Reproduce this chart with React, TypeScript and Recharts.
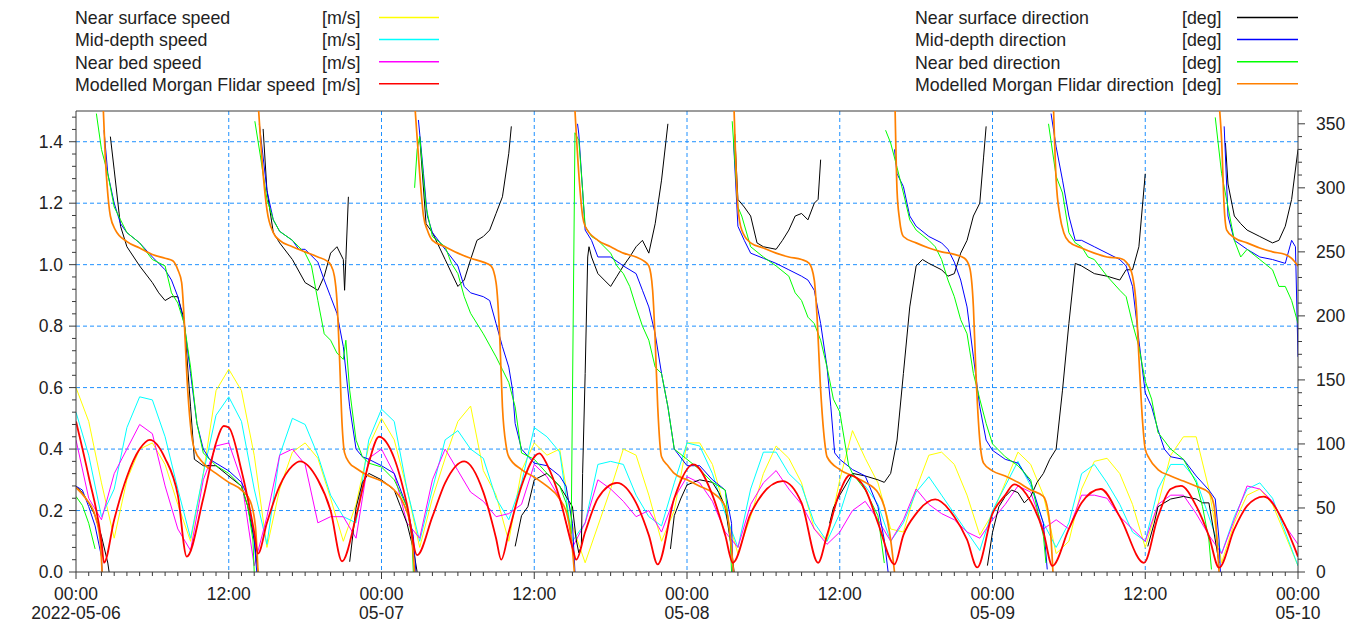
import { CartesianGrid, Line, LineChart, ReferenceLine, XAxis, YAxis } from 'recharts';

type Pt = [number, number | null];

// hourly speeds, 2022-05-06 00:00 .. 2022-05-10 00:00
const surfaceSpeed = [
  0.60, 0.49, 0.29, 0.11, 0.30, 0.40, 0.42, 0.35, 0.22, 0.10,
  0.32, 0.59, 0.66, 0.59, 0.38, 0.08, 0.27, 0.39, 0.42, 0.37,
  0.24, 0.10, 0.22, 0.41, 0.50, 0.43, 0.27, 0.08, 0.24, 0.37,
  0.49, 0.54, 0.33, 0.25, 0.10, 0.33, 0.42, 0.38, 0.40, 0.15,
  0.03, 0.15, 0.27, 0.40, 0.38, 0.25, 0.10, 0.20, 0.42, 0.42,
  0.35, 0.20, 0.06, 0.18, 0.32, 0.41, 0.37, 0.29, 0.14, 0.10,
  0.30, 0.46, 0.37, 0.29, 0.14, 0.13, 0.27, 0.38, 0.39, 0.35,
  0.25, 0.12, 0.19, 0.29, 0.39, 0.35, 0.25, 0.06, 0.10, 0.27,
  0.36, 0.37, 0.32, 0.22, 0.08, 0.22, 0.38, 0.44, 0.44, 0.27,
  0.03, 0.16, 0.25, 0.27, 0.22, 0.12, 0.02,
];
const midSpeed = [
  0.52, 0.38, 0.18, 0.27, 0.47, 0.57, 0.56, 0.44, 0.27, 0.11,
  0.32, 0.51, 0.57, 0.49, 0.27, 0.09, 0.38, 0.50, 0.48, 0.38,
  0.25, 0.18, 0.16, 0.43, 0.53, 0.49, 0.27, 0.10, 0.27, 0.43,
  0.46, 0.40, 0.37, 0.24, 0.17, 0.29, 0.47, 0.44, 0.39, 0.10,
  0.16, 0.35, 0.36, 0.35, 0.25, 0.18, 0.15, 0.29, 0.42, 0.41,
  0.32, 0.19, 0.08, 0.27, 0.39, 0.39, 0.32, 0.28, 0.16, 0.10,
  0.19, 0.32, 0.28, 0.22, 0.10, 0.16, 0.26, 0.31, 0.25, 0.19,
  0.13, 0.07, 0.20, 0.28, 0.36, 0.28, 0.16, 0.08, 0.16, 0.32,
  0.35, 0.29, 0.22, 0.13, 0.10, 0.27, 0.35, 0.35, 0.30, 0.18,
  0.06, 0.18, 0.27, 0.29, 0.24, 0.13, 0.02,
];
const bedSpeed = [
  0.43, 0.24, 0.17, 0.32, 0.40, 0.48, 0.45, 0.28, 0.14, 0.07,
  0.30, 0.41, 0.42, 0.30, 0.02, 0.18, 0.38, 0.40, 0.35, 0.16,
  0.18, 0.18, 0.11, 0.37, 0.40, 0.32, 0.16, 0.11, 0.30, 0.40,
  0.33, 0.26, 0.23, 0.18, 0.19, 0.22, 0.35, 0.31, 0.24, 0.08,
  0.16, 0.30, 0.27, 0.23, 0.18, 0.20, 0.13, 0.24, 0.31, 0.29,
  0.23, 0.13, 0.08, 0.22, 0.29, 0.33, 0.27, 0.22, 0.14, 0.09,
  0.13, 0.20, 0.23, 0.17, 0.10, 0.17, 0.27, 0.22, 0.19, 0.17,
  0.13, 0.11, 0.17, 0.22, 0.28, 0.26, 0.14, 0.17, 0.14, 0.25,
  0.25, 0.24, 0.18, 0.14, 0.10, 0.22, 0.25, 0.25, 0.19, 0.12,
  0.06, 0.17, 0.28, 0.27, 0.23, 0.15, 0.09,
];
// [hour, value]
const modelSpeed: Pt[] = [
  [0, 0.49], [1, 0.31], [2, 0.10], [2.2, 0.03], [3, 0.17], [4, 0.31], [5, 0.40], [5.8, 0.43], [7, 0.37], [8, 0.25],
  [8.7, 0.05], [10, 0.24], [11, 0.42], [11.6, 0.475], [12, 0.47], [13, 0.33], [14, 0.13], [14.3, 0.06], [15, 0.16],
  [16, 0.28], [17, 0.345], [17.6, 0.36], [19, 0.30], [20, 0.20], [20.9, 0.035], [22, 0.18], [23, 0.355], [23.8, 0.44],
  [25, 0.37], [26, 0.22], [26.8, 0.055], [28, 0.18], [29, 0.29], [30.5, 0.36], [32, 0.26], [33, 0.11], [33.4, 0.04],
  [34, 0.13], [35, 0.28], [36.4, 0.386], [37, 0.35], [38, 0.24], [39, 0.08], [39.3, 0.04], [40, 0.13], [41, 0.24],
  [42.5, 0.29], [44, 0.225], [45, 0.12], [45.7, 0.025], [47, 0.24], [48.5, 0.35], [50, 0.25], [51, 0.12], [51.6, 0.03],
  [53, 0.19], [55.5, 0.296], [57, 0.225], [58.3, 0.03], [59, 0.12], [60, 0.26], [60.8, 0.315], [62, 0.27], [63, 0.16],
  [64.3, 0.025], [65, 0.12], [66, 0.19], [67.5, 0.236], [69, 0.18], [70, 0.105], [70.8, 0.015], [72, 0.19], [73, 0.25],
  [73.7, 0.285], [75, 0.23], [76, 0.13], [76.7, 0.02], [78, 0.14], [79, 0.225], [80.5, 0.27], [82, 0.18], [83.9, 0.03],
  [85, 0.18], [86, 0.27], [86.8, 0.28], [88, 0.215], [89, 0.117], [89.8, 0.014], [91, 0.14], [92, 0.215], [93.3, 0.245],
  [95, 0.15], [96, 0.05],
];

// directions [hour, deg]; null breaks the line where it wraps 0/360
const surfaceDir: Pt[] = [
  [0, 67], [0.5, 62], [1, 54], [1.5, 44], [2, 28], [2.5, 7], [2.6, 0], [2.65, null], [2.7, 340], [3, 314], [3.5, 270],
  [4, 254], [5, 239], [6, 226], [6.5, 218], [7, 212], [7.5, 215], [8, 215], [8.5, 197], [9, 129], [9.3, 88], [10, 83],
  [11, 83], [12, 75], [13, 67], [13.5, 51], [14, 25], [14.3, 0], [14.5, null], [14.7, 346], [15, 298], [15.5, 265],
  [16, 257], [17, 244], [18, 226], [19, 220], [19.5, 231], [20, 249], [20.5, 254], [21, 244], [21.1, 220], [21.2, 244],
  [21.4, 293], [21.45, null], [21.5, 8], [22, 50], [22.5, 70], [23, 77], [24, 72], [25, 64], [25.5, 51], [26, 38],
  [26.5, 18], [26.8, 0], [26.9, null], [27, 340], [27.5, 272], [28, 265], [29, 244], [30, 223], [30.5, 228], [31, 244],
  [31.5, 259], [32, 262], [32.5, 267], [33, 280], [33.5, 293], [34, 327], [34.2, 348], [34.3, null], [34.5, 20],
  [35, 44], [35.5, 51], [36, 72], [37, 77], [38, 67], [38.5, 59], [39, 51], [39.3, 25], [39.5, 15], [39.7, 20],
  [39.8, 77], [40, 155], [40.2, 246], [40.3, 254], [40.5, 246], [41, 233], [41.5, 228], [42, 223], [42.5, 231],
  [43, 239], [43.5, 246], [44, 254], [44.5, 259], [45, 249], [45.5, 272], [46, 306], [46.5, 350], [46.6, null],
  [46.7, 18], [47, 44], [47.5, 57], [48, 68], [49, 72], [50, 70], [50.5, 62], [51, 51], [51.5, 18], [51.7, 0],
  [51.72, null], [51.75, 342], [52, 291], [52.5, 285], [53, 278], [53.5, 257], [54, 254], [55, 252], [55.5, 259],
  [56, 267], [56.5, 278], [57, 280], [57.5, 275], [58, 288], [58.3, 291], [58.5, 322], [58.8, null], [59.2, 38],
  [59.5, 50], [60, 60], [61, 77], [62, 75], [63, 72], [63.5, 70], [64, 77], [64.5, 103], [65, 155], [65.5, 207],
  [66, 239], [66.5, 244], [67, 241], [68, 236], [68.5, 231], [69, 233], [69.5, 249], [70, 259], [70.5, 278], [71, 288],
  [71.3, 324], [71.5, 348], [71.55, null], [71.6, 5], [72, 31], [72.5, 51], [73, 59], [73.5, 64], [74, 62],
  [74.5, 54], [75, 59], [75.5, 70], [76, 77], [76.5, 88], [77, 96], [77.5, 142], [78, 194], [78.5, 241], [79, 239],
  [80, 233], [81, 231], [82, 228], [82.5, 236], [83, 236], [83.5, 254], [84, 311], [84.1, null], [84.2, 20],
  [84.7, 38], [85, 51], [86, 57], [87, 59], [88, 57], [88.5, 54], [89, 54], [89.5, 25], [89.8, 7], [90, null],
  [90.3, 335], [90.5, 303], [91, 278], [91.5, 272], [92, 267], [93, 262], [94, 257], [94.5, 259], [95, 270],
  [95.5, 291], [96, 330],
];
const midDir: Pt[] = [
  [0, 67], [0.5, 64], [1, 51], [1.5, 36], [2, 12], [2.05, 0], [2.1, null], [2.2, 345], [2.5, 311], [3, 288],
  [3.5, 272], [4, 265], [5, 257], [6, 246], [7, 236], [7.5, 228], [8, 215], [8.5, 194], [9, 155], [9.5, 116], [10, 96],
  [10.5, 88], [11, 85], [12, 79], [13, 70], [13.5, 59], [14, 25], [14.2, 0], [14.3, null], [14.4, 350], [15, 298],
  [15.5, 275], [16, 266], [17, 259], [17.5, 252], [18, 252], [19, 242], [19.5, 228], [20, 215], [20.5, 202], [21, 176],
  [21.5, 129], [22, 96], [22.5, 90], [23, 88], [24, 83], [25, 77], [26, 51], [26.5, 28], [26.7, 0], [26.8, null],
  [26.9, 353], [27.3, 311], [27.6, 278], [28, 265], [29, 252], [30, 239], [30.5, 223], [31, 218], [32, 215],
  [32.5, 212], [33, 194], [33.5, 176], [34, 160], [34.3, 142], [34.5, 116], [35, 96], [36, 85], [37, 83], [38, 75],
  [38.5, 67], [39, 38], [39.2, 0], [39.3, null], [39.4, 350], [39.5, 342], [39.8, 298], [40, 267], [40.5, 259],
  [41, 246], [42, 246], [43, 239], [44, 233], [44.5, 220], [45, 207], [45.5, 186], [46, 155], [46.5, 129], [47, 96],
  [48, 83], [49, 83], [50, 72], [51, 64], [51.5, 38], [51.6, 0], [51.62, null], [51.65, 337], [52, 270], [52.5, 259],
  [53, 249], [54, 245], [55, 241], [56, 236], [57, 231], [57.5, 228], [58, 220], [58.5, 194], [59, 160], [59.3, 129],
  [59.6, 93], [60, 88], [61, 80], [62, 75], [63, 51], [63.5, 25], [63.8, 0], [64, null], [64.3, 330], [64.5, 311],
  [65, 301], [65.5, 278], [66, 270], [67, 262], [68, 257], [68.5, 252], [69, 242], [69.5, 228], [70, 207],
  [70.5, 168], [71, 129], [71.5, 103], [72, 95], [73, 88], [74, 85], [75, 70], [76, 38], [76.3, 2], [76.4, null],
  [76.6, 358], [77, 332], [77.5, 306], [78, 278], [78.5, 259], [79, 259], [80, 254], [81, 249], [82, 244],
  [82.5, 239], [83, 223], [83.5, 181], [84, 140], [84.5, 129], [85, 111], [85.5, 96], [86, 90], [87, 88], [88, 75],
  [89, 64], [89.5, 57], [89.8, 25], [89.9, 0], [90, null], [90.2, 348], [90.5, 278], [91, 259], [92, 252], [93, 246],
  [94, 244], [95, 241], [95.5, 259], [95.8, 254], [96, 168],
];
const bedDir: Pt[] = [
  [0, 59], [0.5, 52], [1, 38], [1.5, 18], [1.55, null], [1.6, 358], [2, 330], [2.5, 311], [3, 285], [3.5, 275],
  [4, 265], [5, 257], [6, 244], [7, 239], [7.5, 218], [8, 210], [8.5, 194], [9, 160], [9.5, 116], [10, 93],
  [10.5, 88], [11, 83], [12, 77], [13, 67], [13.5, 51], [13.9, 25], [14, 0], [14.02, null], [14.05, 352],
  [14.5, 324], [15, 291], [15.5, 275], [16, 266], [17, 259], [18, 249], [18.5, 239], [19, 212], [19.5, 186],
  [20, 181], [20.5, 171], [21, 166], [21.2, 181], [21.5, 142], [22, 103], [22.5, 90], [23, 85], [24, 82], [25, 72],
  [26, 51], [26.4, 25], [26.5, 0], [26.55, null], [26.6, 300], [26.8, 330], [27, 340], [27.5, 285], [28, 262],
  [29, 254], [29.5, 241], [30, 233], [30.5, 215], [31, 202], [32, 186], [33, 168], [33.5, 158], [34, 148],
  [34.5, 129], [35, 93], [36, 88], [37, 77], [38, 67], [38.5, 54], [38.9, 30], [39.2, 343], [39.5, 337], [39.8, 298],
  [40, 270], [40.5, 262], [41, 259], [42, 249], [42.5, 239], [43, 233], [43.5, 223], [44, 207], [44.5, 192],
  [45, 181], [45.5, 160], [46, 155], [46.5, 129], [47, 96], [48, 88], [49, 80], [50, 70], [51, 64], [51.4, 25],
  [51.5, 0], [51.52, null], [51.55, 352], [52, 285], [52.3, 278], [53, 254], [54, 246], [55, 239], [56, 231],
  [56.5, 218], [57, 212], [57.5, 199], [58, 194], [58.5, 181], [59, 160], [59.5, 135], [60, 125], [60.7, 83],
  [61, 77], [62, 64], [63, 44], [63.5, 7], [63.55, null], [63.6, 345], [64, 335], [64.5, 316], [65, 296], [65.5, 275],
  [66, 267], [67, 259], [67.5, 254], [68, 244], [68.5, 228], [69, 215], [69.5, 197], [70, 186], [70.5, 155],
  [71, 135], [71.5, 116], [72, 100], [73, 90], [74, 83], [75, 72], [76, 28], [76.2, 7], [76.3, null], [76.4, 350],
  [77, 309], [77.5, 296], [78, 265], [78.5, 257], [79, 254], [79.5, 246], [80, 244], [81, 231], [82, 220],
  [82.5, 215], [83, 194], [83.5, 176], [84, 149], [84.5, 135], [85, 109], [86, 96], [87, 88], [88, 70], [88.5, 51],
  [89, 25], [89.2, 2], [89.3, null], [89.5, 355], [90, 311], [90.5, 285], [91, 259], [91.5, 246], [92, 252],
  [93, 244], [94, 236], [94.5, 223], [95, 223], [95.5, 212], [96, 194],
];
const modelDir: Pt[] = [
  [0, 66], [0.8, 57], [1.5, 44], [1.9, 25], [2.05, 0], [2.1, null], [2.15, 360], [2.3, 324], [2.45, 301], [2.7, 278],
  [3.1, 267], [4, 258], [5, 253], [6, 248], [7, 245], [7.6, 243], [8, 236], [8.3, 226], [8.5, 197], [8.7, 155],
  [9, 114], [9.3, 96], [10, 85], [11, 77], [12, 70], [13, 64], [13.7, 55], [14.1, 35], [14.3, 0], [14.32, null],
  [14.35, 360], [14.7, 311], [15, 283], [15.5, 265], [16, 259], [17, 254], [18, 250], [19, 246], [19.7, 243],
  [20, 240], [20.3, 231], [20.5, 212], [20.7, 168], [20.9, 116], [21.1, 93], [21.5, 85], [22, 81], [23, 75],
  [24, 71], [25, 64], [25.8, 52], [26.3, 35], [26.6, 0], [26.62, null], [26.65, 360], [27, 311], [27.3, 278],
  [27.6, 267], [28, 259], [29, 254], [30, 249], [31, 245], [32, 242], [32.6, 239], [33, 226], [33.3, 181],
  [33.5, 129], [33.8, 98], [34, 90], [35, 80], [36, 74], [37, 67], [38, 57], [38.6, 44], [39, 18], [39.15, 0],
  [39.17, null], [39.2, 360], [39.5, 311], [39.8, 278], [40, 270], [41, 259], [42, 254], [43, 249], [44, 246],
  [44.6, 243], [45, 239], [45.3, 220], [45.5, 181], [45.7, 129], [46, 90], [46.5, 83], [47, 77], [48, 72], [49, 67],
  [50, 62], [51, 51], [51.5, 18], [51.65, 0], [51.67, null], [51.7, 360], [52, 285], [52.3, 267], [53, 257],
  [54, 253], [55, 249], [56, 246], [57, 244], [57.6, 241], [58, 228], [58.2, 202], [58.5, 142], [58.8, 103], [59, 90],
  [60, 80], [61, 75], [62, 70], [63, 62], [63.5, 51], [64, 25], [64.3, 0], [64.32, null], [64.35, 360], [64.5, 298],
  [64.7, 275], [65, 262], [66, 257], [67, 253], [68, 250], [69, 248], [69.8, 245], [70.2, 238], [70.5, 207],
  [70.7, 155], [71, 103], [71.3, 85], [72, 79], [73, 75], [74, 70], [75, 64], [76, 59], [76.5, 38], [76.75, 0],
  [76.77, null], [76.8, 360], [77, 306], [77.3, 278], [77.6, 265], [78, 258], [79, 253], [80, 249], [81, 246],
  [82, 245], [82.6, 241], [83, 231], [83.3, 207], [83.5, 168], [83.8, 116], [84, 96], [84.3, 89], [85, 80], [86, 75],
  [87, 71], [88, 67], [89, 62], [89.4, 52], [89.7, 15], [89.8, 0], [89.82, null], [89.85, 360], [90, 337],
  [90.2, 285], [90.4, 267], [91, 261], [92, 257], [93, 253], [94, 250], [95, 248], [95.5, 245], [96, 239],
];

const speedTickLabels = ['0.0', '0.2', '0.4', '0.6', '0.8', '1.0', '1.2', '1.4'];
const dirTickLabels = ['0', '50', '100', '150', '200', '250', '300', '350'];
const timeLabels = ['00:00', '12:00', '00:00', '12:00', '00:00', '12:00', '00:00', '12:00', '00:00'];
const dateLabels = ['2022-05-06', '', '05-07', '', '05-08', '', '05-09', '', '05-10'];

const speedLegend = [
  { name: 'Near surface speed', color: '#ffff00' },
  { name: 'Mid-depth speed', color: '#00ffff' },
  { name: 'Near bed speed', color: '#ff00ff' },
  { name: 'Modelled Morgan Flidar speed', color: '#ff0000' },
];
const dirLegend = [
  { name: 'Near surface direction', color: '#000000' },
  { name: 'Mid-depth direction', color: '#0000ff' },
  { name: 'Near bed direction', color: '#00ff00' },
  { name: 'Modelled Morgan Flidar direction', color: '#ff8000' },
];

const font = '"Liberation Sans", Arial, sans-serif';
const axisColor = '#3a3a3a';
const textColor = '#222';
const tickFont = 17.5;

const hourly = (vals: number[]) => vals.map((v, h) => ({ h, v }));
const pairs = (pts: Pt[]) => pts.map(([h, v]) => ({ h, v }));

const hourTicks = Array.from({ length: 97 }, (_, i) => i);
const speedTicks = Array.from({ length: 38 }, (_, i) => Math.round(i * 4) / 100);
const dirTicks = Array.from({ length: 37 }, (_, i) => i * 10);

function XTick(props: any) {
  const { x, y, payload } = props;
  const h = payload.value;
  const major = h % 12 === 0;
  const i = h / 12;
  return (
    <g>
      <line x1={x} x2={x} y1={y} y2={y + (major ? 7 : 4)} stroke={axisColor} />
      {major && (
        <text x={x} y={y + 28} textAnchor="middle" fontSize={tickFont} fontFamily={font} fill={textColor}>
          {timeLabels[i]}
        </text>
      )}
      {major && dateLabels[i] && (
        <text x={x} y={y + 47} textAnchor="middle" fontSize={tickFont} fontFamily={font} fill={textColor}>
          {dateLabels[i]}
        </text>
      )}
    </g>
  );
}

function SpeedTick(props: any) {
  const { x, y, index } = props;
  const major = index % 5 === 0;
  return (
    <g>
      <line x1={x - (major ? 7 : 4)} x2={x} y1={y} y2={y} stroke={axisColor} />
      {major && (
        <text x={x - 13} y={y + 6} textAnchor="end" fontSize={tickFont} fontFamily={font} fill={textColor}>
          {speedTickLabels[index / 5]}
        </text>
      )}
    </g>
  );
}

function DirTick(props: any) {
  const { x, y, index } = props;
  const major = index % 5 === 0;
  return (
    <g>
      <line x1={x} x2={x + (major ? 7 : 4)} y1={y} y2={y} stroke={axisColor} />
      {major && (
        <text x={x + 18} y={y + 6} textAnchor="start" fontSize={tickFont} fontFamily={font} fill={textColor}>
          {dirTickLabels[index / 5]}
        </text>
      )}
    </g>
  );
}

function LegendBlock({ items, unit, x, unitX, lineX1, lineX2 }: any) {
  return (
    <g fontFamily={font} fontSize={17.8} fill={textColor}>
      {items.map((it: any, i: number) => (
        <g key={it.name}>
          <text x={x} y={16.3 + i * 22.1}>{it.name}</text>
          <text x={unitX} y={16.3 + i * 22.1}>{unit}</text>
          <line x1={lineX1} x2={lineX2} y1={9.5 + i * 22.1} y2={9.5 + i * 22.1} stroke={it.color} strokeWidth={1.5} />
        </g>
      ))}
    </g>
  );
}

export default function App() {
  return (
    <div style={{ position: 'relative', width: 1361, height: 624 }}>
      <svg width={1361} height={100} style={{ position: 'absolute', left: 0, top: 0 }}>
        <LegendBlock items={speedLegend} unit="[m/s]" x={67} unitX={314} lineX1={371} lineX2={431} />
        <LegendBlock items={dirLegend} unit="[deg]" x={907} unitX={1174} lineX1={1229} lineX2={1290} />
      </svg>
      <LineChart width={1361} height={624} margin={{ top: 103, right: 0, bottom: 0, left: 0 }}>
        <CartesianGrid
          yAxisId="spd"
          horizontalValues={[0.2, 0.4, 0.6, 0.8, 1.0, 1.2, 1.4]}
          verticalValues={[12, 24, 36, 48, 60, 72, 84]}
          stroke="#1e90ff"
          strokeDasharray="4 3"
        />
        <XAxis
          dataKey="h"
          type="number"
          domain={[0, 96]}
          ticks={hourTicks}
          interval={0}
          allowDataOverflow
          height={60}
          tickSize={0}
          tickMargin={0}
          tickLine={false}
          stroke={axisColor}
          tick={<XTick />}
        />
        <YAxis
          yAxisId="spd"
          type="number"
          domain={[0, 1.5]}
          ticks={speedTicks}
          interval={0}
          allowDataOverflow
          width={68}
          tickSize={0}
          tickMargin={0}
          tickLine={false}
          stroke={axisColor}
          tick={<SpeedTick />}
        />
        <YAxis
          yAxisId="dir"
          orientation="right"
          type="number"
          domain={[0, 360]}
          ticks={dirTicks}
          interval={0}
          allowDataOverflow
          width={71}
          tickSize={0}
          tickMargin={0}
          tickLine={false}
          stroke={axisColor}
          tick={<DirTick />}
        />
        <ReferenceLine yAxisId="spd" y={1.5} stroke={axisColor} />
        <Line yAxisId="spd" data={hourly(surfaceSpeed)} dataKey="v" stroke="#ffff00" strokeWidth={1} dot={false} activeDot={false} isAnimationActive={false} />
        <Line yAxisId="spd" data={hourly(midSpeed)} dataKey="v" stroke="#00ffff" strokeWidth={1} dot={false} activeDot={false} isAnimationActive={false} />
        <Line yAxisId="spd" data={hourly(bedSpeed)} dataKey="v" stroke="#ff00ff" strokeWidth={1} dot={false} activeDot={false} isAnimationActive={false} />
        <Line yAxisId="dir" data={pairs(surfaceDir)} dataKey="v" stroke="#000000" strokeWidth={1} dot={false} activeDot={false} isAnimationActive={false} />
        <Line yAxisId="dir" data={pairs(midDir)} dataKey="v" stroke="#0000ff" strokeWidth={1} dot={false} activeDot={false} isAnimationActive={false} />
        <Line yAxisId="dir" data={pairs(bedDir)} dataKey="v" stroke="#00ff00" strokeWidth={1} dot={false} activeDot={false} isAnimationActive={false} />
        <Line yAxisId="dir" type="monotone" data={pairs(modelDir)} dataKey="v" stroke="#ff8000" strokeWidth={1.7} dot={false} activeDot={false} isAnimationActive={false} />
        <Line yAxisId="spd" type="monotone" data={pairs(modelSpeed)} dataKey="v" stroke="#ff0000" strokeWidth={1.8} dot={false} activeDot={false} isAnimationActive={false} />
      </LineChart>
    </div>
  );
}
